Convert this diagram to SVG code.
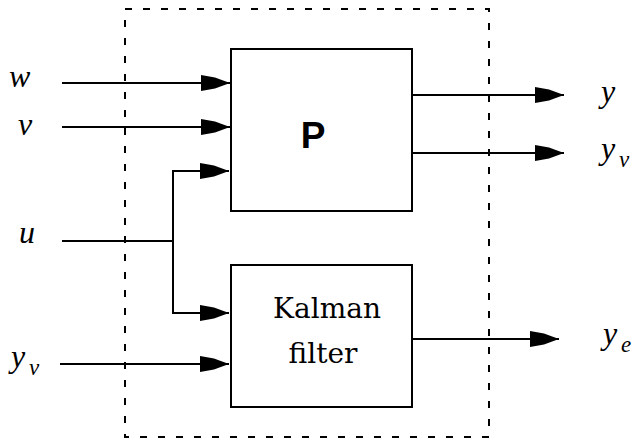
<svg xmlns="http://www.w3.org/2000/svg" width="636" height="440" viewBox="0 0 636 440">
<defs>
<style>
.box{fill:#fff;stroke:#000;stroke-width:2}
.ln{fill:none;stroke:#000;stroke-width:2}
.frame{fill:none;stroke:#000;stroke-width:2;stroke-dasharray:7 11}
.math{font-family:"Liberation Serif","Times New Roman",serif;font-style:italic;font-size:32px;fill:#000}
.sub{font-family:"Liberation Serif","Times New Roman",serif;font-style:italic;font-size:23px;fill:#000}
.lbl{font-family:"DejaVu Serif",serif;font-size:28px;fill:#000;text-anchor:middle}
.P{font-family:"Liberation Sans",Arial,sans-serif;font-weight:bold;font-size:37px;fill:#000;text-anchor:middle}
</style>
<marker id="ah" markerUnits="userSpaceOnUse" markerWidth="32" markerHeight="20" viewBox="-30 -10 32 20" refX="0" refY="0" orient="auto">
<path d="M-29,-8 L-15,-5.5 L0,0 L-15,5.5 L-29,8 Z" fill="#000"/>
</marker>
</defs>
<rect x="125" y="9" width="364" height="428" class="frame"/>
<g id="connectors">
<line x1="62" y1="83" x2="230" y2="83" class="ln" marker-end="url(#ah)"/>
<line x1="62" y1="127" x2="230" y2="127" class="ln" marker-end="url(#ah)"/>
<polyline points="62,241 173,241" class="ln"/>
<polyline points="173,241 173,171 229,171" class="ln" marker-end="url(#ah)"/>
<polyline points="173,241 173,313 229,313" class="ln" marker-end="url(#ah)"/>
<line x1="60" y1="364" x2="229" y2="364" class="ln" marker-end="url(#ah)"/>
<line x1="412" y1="95" x2="564" y2="95" class="ln" marker-end="url(#ah)"/>
<line x1="412" y1="153" x2="564" y2="153" class="ln" marker-end="url(#ah)"/>
<line x1="412" y1="339" x2="559" y2="339" class="ln" marker-end="url(#ah)"/>
</g>
<g id="P">
<rect x="231" y="49" width="181" height="162" class="box"/>
<text x="313" y="148" class="P">P</text>
</g>
<g id="kalman">
<rect x="231" y="265" width="181" height="142" class="box"/>
<text x="327" y="318" class="lbl">Kalman</text>
<text x="323" y="363" class="lbl">filter</text>
</g>
<g id="labels">
<text x="9" y="87" class="math">w</text>
<text x="18" y="135" class="math">v</text>
<text x="19" y="243" class="math">u</text>
<text x="11" y="367" class="math">y</text><text x="29" y="375" class="sub">v</text>
<text x="601" y="102" class="math">y</text>
<text x="601" y="159" class="math">y</text><text x="619" y="167" class="sub">v</text>
<text x="603" y="344" class="math">y</text><text x="621" y="352" class="sub">e</text>
</g>
</svg>
